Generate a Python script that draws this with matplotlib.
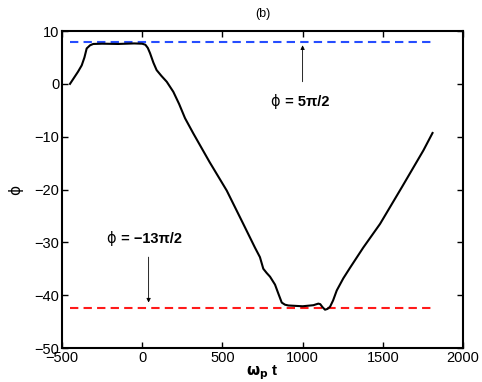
import numpy as np
import matplotlib.pyplot as plt

plt.rcParams['font.family'] = ['Liberation Sans', 'DejaVu Sans']

# phase curve
t = [-450, -400, -377, -360, -346, -325, -305, -250, -150, -50, 0, 20, 35, 49, 70, 90,
     120, 153, 194, 230, 267, 319, 420, 527, 630, 703, 734, 755, 776, 797, 828, 850,
     870, 890, 911, 1000, 1067, 1098, 1110, 1125, 1140, 1155, 1171, 1190, 1213, 1254,
     1296, 1378, 1483, 1620, 1753, 1810]
phi = [0.0, 2.3, 3.5, 5.0, 6.7, 7.3, 7.55, 7.6, 7.55, 7.65, 7.6, 7.4, 6.8, 5.8, 4.0, 2.6,
       1.5, 0.4, -1.5, -3.8, -6.5, -9.4, -14.8, -20.2, -26.5, -31.0, -32.8, -35.0, -35.8,
       -36.5, -38.0, -39.8, -41.4, -41.8, -41.95, -42.1, -41.9, -41.6, -41.7, -42.3,
       -42.75, -42.6, -42.2, -41.0, -39.1, -36.8, -34.8, -31.0, -26.5, -19.5, -12.6, -9.3]

t_ref = [-450, 1800]
phi_top = 5 * np.pi / 2
phi_bot = -27 * np.pi / 2

fig = plt.figure(figsize=(4.82, 3.82), dpi=100)
ax = fig.add_axes([0.1286, 0.089, 0.832, 0.8298])

ax.plot(t_ref, [phi_top, phi_top], '--', color=(0.15, 0.3, 1.0), lw=1.5, dashes=(4, 2.5))
ax.plot(t_ref, [phi_bot, phi_bot], '--', color=(1.0, 0.1, 0.1), lw=1.5, dashes=(4, 2.5))
ax.plot(t, phi, 'k-', lw=1.5)

arrow = dict(arrowstyle='-|>', lw=0.6, color='k', mutation_scale=6, shrinkA=0, shrinkB=0)
ax.annotate('', xy=(1000, 7.3), xytext=(1000, 0.4), arrowprops=arrow)
ax.annotate('', xy=(40, -41.4), xytext=(40, -32.8), arrowprops=arrow)

sym = ['DejaVu Sans']
ax.text(858, -3.4, 'ϕ', fontsize=10.5, family=sym, ha='right', va='center')
ax.text(863, -3.4, ' = 5π/2', fontsize=10.5, fontweight='bold', ha='left', va='center')
ax.text(-165, -29.3, 'ϕ', fontsize=10.5, family=sym, ha='right', va='center')
ax.text(-160, -29.3, ' = −13π/2', fontsize=10.5, fontweight='bold', ha='left', va='center')

ax.set_xlim(-500, 2000)
ax.set_ylim(-50, 10)
ax.set_xticks([-500, 0, 500, 1000, 1500, 2000])
ax.set_yticks([-50, -40, -30, -20, -10, 0, 10])
ax.set_xticklabels(['−500', '0', '500', '1000', '1500', '2000'])
ax.set_yticklabels(['−50', '−40', '−30', '−20', '−10', '0', '10'])
ax.tick_params(direction='in', length=4, width=1, top=True, right=True, labelsize=10.5, pad=2)
for s in ax.spines.values():
    s.set_linewidth(1.5)

ax.set_title('(b)', fontsize=9, pad=10)
ax.set_xlabel(r'$\mathbf{\omega_p}$ t', fontsize=11, fontweight='bold', labelpad=-1)
ax.set_ylabel('ϕ', fontsize=11, family=sym, labelpad=8)

fig.savefig('out.png', dpi=100)
